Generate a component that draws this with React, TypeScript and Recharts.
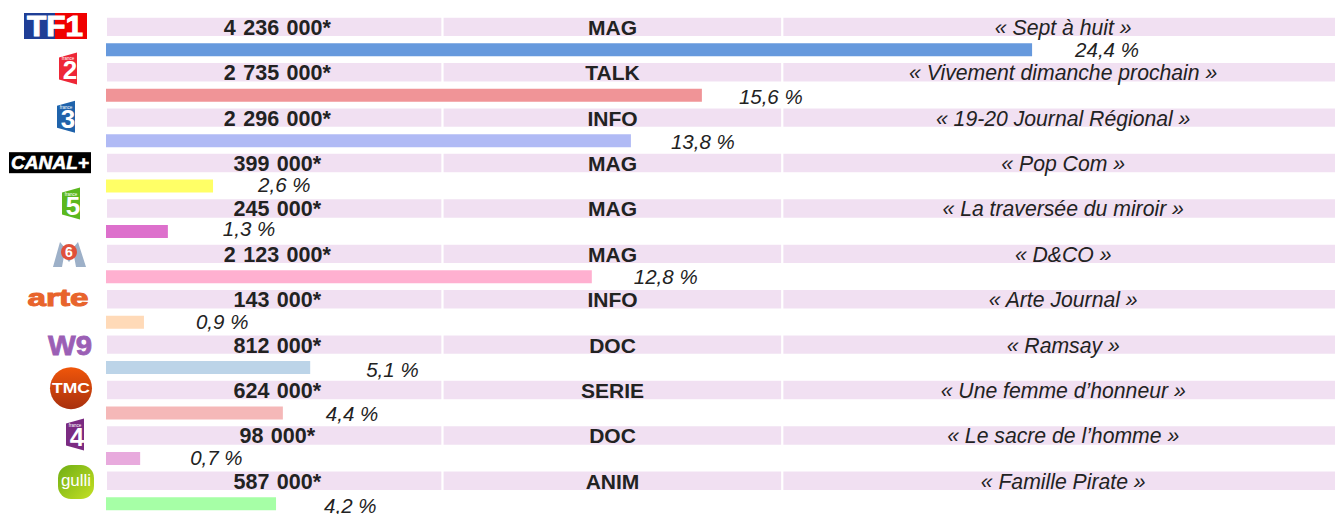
import { BarChart, Bar, Cell, XAxis, YAxis, LabelList } from 'recharts';

const channels = ['TF1', 'France 2', 'France 3', 'Canal+', 'France 5', 'M6', 'Arte', 'W9', 'TMC', 'France 4', 'Gulli'];
const audiences = ['4 236 000*', '2 735 000*', '2 296 000*', '399 000*', '245 000*', '2 123 000*', '143 000*', '812 000*', '624 000*', '98 000*', '587 000*'];
const genres = ['MAG', 'TALK', 'INFO', 'MAG', 'MAG', 'MAG', 'INFO', 'DOC', 'SERIE', 'DOC', 'ANIM'];
const programmes = [
  '« Sept à huit »', '« Vivement dimanche prochain »', '« 19-20 Journal Régional »', '« Pop Com »',
  '« La traversée du miroir »', '« D&CO »', '« Arte Journal »', '« Ramsay »',
  '« Une femme d’honneur »', '« Le sacre de l’homme »', '« Famille Pirate »',
];
const shareLabels = ['24,4 %', '15,6 %', '13,8 %', '2,6 %', '1,3 %', '12,8 %', '0,9 %', '5,1 %', '4,4 %', '0,7 %', '4,2 %'];
// bar lengths as drawn: in the picture they don't quite follow the printed labels
const shareBars = [24.4, 15.7, 13.83, 2.82, 1.63, 12.8, 1.0, 5.38, 4.66, 0.9, 4.48];
const barColors = ['#6699DD', '#F09497', '#B0BAF5', '#FFFF66', '#DD70CC', '#FFB0D0', '#FFDAB8', '#BCD4E8', '#F5B8B8', '#E8AADD', '#A6FFA6'];
const columnWidths = [27.32, 27.58, 45.1];

// label placement, right of each bar end
const labelGaps = [43, 37, 40, 45, 55, 42, 52, 56, 43, 50, 48];
const labelShift = [0, 1, 1, -2, -3, 0, -1, 2, 0, -1, 2];

const FONT = '"Liberation Sans", Arial, sans-serif';
const INK = '#222222';
const BAND = '#F1E0F2';

const rows = channels.flatMap((c, i) => [
  {
    row: `${c} info`, channel: c, col1: columnWidths[0], col2: columnWidths[1], col3: columnWidths[2],
    audience: audiences[i], genre: genres[i], programme: programmes[i],
    share: null, shareLabel: null,
  },
  {
    row: `${c} part`, channel: null, col1: null, col2: null, col3: null,
    audience: null, genre: null, programme: null,
    share: shareBars[i], shareLabel: shareLabels[i],
  },
]);

function AudienceText({ x, y, width, height, value }: any) {
  if (value == null) return null;
  return (
    <text x={x + width / 2 + 3} y={y + height / 2 + 8} textAnchor="middle" fill={INK} fontFamily={FONT} fontSize={21.5} fontWeight={700} style={{ wordSpacing: 1.5 }}>
      {value}
    </text>
  );
}

function GenreText({ x, y, width, height, value }: any) {
  if (value == null) return null;
  return (
    <text x={x + width / 2} y={y + height / 2 + 8} textAnchor="middle" fill={INK} fontFamily={FONT} fontSize={21} fontWeight={700}>
      {value}
    </text>
  );
}

function ProgrammeText({ x, y, width, height, value }: any) {
  if (value == null) return null;
  return (
    <text x={x + width / 2 + 3} y={y + height / 2 + 8} textAnchor="middle" fill={INK} fontFamily={FONT} fontSize={21.2} fontStyle="italic">
      {value}
    </text>
  );
}

function ShareText({ x, y, width, height, value }: any) {
  if (value == null) return null;
  const i = shareLabels.indexOf(value);
  return (
    <text x={x + width + labelGaps[i]} y={y + height / 2 + 7.5 + labelShift[i]} fill={INK} fontFamily={FONT} fontSize={20.5} fontStyle="italic">
      {value}
    </text>
  );
}

function FranceLogo({ cx, cy, color, n }: { cx: number; cy: number; color: string; n: string }) {
  return (
    <g transform={`translate(${cx},${cy})`}>
      <polygon points="-9,-11 9,-16 9,16 -9,11" fill={color} />
      <text x={0} y={-8} textAnchor="middle" fill="#fff" fontFamily={FONT} fontSize={4.5}>france</text>
      <text x={2} y={11} textAnchor="middle" fill="#fff" fontFamily={FONT} fontWeight={700} fontSize={26}>{n}</text>
    </g>
  );
}

function ChannelLogo({ channel, y }: { channel: string; y: number }) {
  const t = (cx: number, cy: number, s: string, size: number, fill: string, extra: any = {}) => (
    <text x={cx} y={cy} textAnchor="middle" fill={fill} fontFamily={FONT} fontWeight={700} fontSize={size} {...extra}>{s}</text>
  );
  switch (channel) {
    case 'TF1':
      return (
        <g>
          <rect x={24} y={y - 14} width={32} height={26} fill="#1F3E96" />
          <rect x={55} y={y - 14} width={32} height={26} fill="#F00000" />
          {t(55, y + 9, 'TF1', 29, '#fff', { textLength: 56, lengthAdjust: 'spacingAndGlyphs', stroke: '#fff', strokeWidth: 1 })}
        </g>
      );
    case 'France 2': return <FranceLogo cx={68} cy={y - 4} color="#EE2737" n="2" />;
    case 'France 3': return <FranceLogo cx={66} cy={y - 1} color="#1F63AB" n="3" />;
    case 'Canal+':
      return (
        <g>
          <rect x={9} y={y - 11} width={82} height={21} fill="#000" />
          {t(50, y + 6, 'CANAL+', 19, '#fff', { fontStyle: 'italic', textLength: 78, lengthAdjust: 'spacingAndGlyphs', stroke: '#fff', strokeWidth: 0.6 })}
        </g>
      );
    case 'France 5': return <FranceLogo cx={71} cy={y - 5} color="#5BB81F" n="5" />;
    case 'M6':
      return (
        <g>
          <polygon
            points={`53,${y + 13} 60,${y - 12} 69,${y - 1} 78,${y - 12} 86,${y + 13} 76,${y + 13} 74,${y + 2} 69,${y + 8} 64,${y + 2} 62,${y + 13}`}
            fill="#9DB0C8"
          />
          <circle cx={69} cy={y - 2} r={8} fill="#E0503A" />
          {t(69, y + 3, '6', 14, '#fff')}
        </g>
      );
    case 'Arte': return t(58, y + 7, 'arte', 24, '#E8642C', { textLength: 61, lengthAdjust: 'spacingAndGlyphs', stroke: '#E8642C', strokeWidth: 1 });
    case 'W9': return t(70, y + 10, 'W9', 28, '#9B5FB5', { textLength: 44, lengthAdjust: 'spacingAndGlyphs', stroke: '#9B5FB5', strokeWidth: 0.8 });
    case 'TMC':
      return (
        <g>
          <defs>
            <linearGradient id="tmcFill" x1="0" y1="0" x2="0" y2="1">
              <stop offset="0%" stopColor="#F0560A" />
              <stop offset="100%" stopColor="#A8300E" />
            </linearGradient>
          </defs>
          <circle cx={71} cy={y - 2} r={21} fill="url(#tmcFill)" />
          {t(71, y + 3, 'TMC', 15, '#fff', { textLength: 38, lengthAdjust: 'spacingAndGlyphs' })}
        </g>
      );
    case 'France 4': return <FranceLogo cx={75} cy={y - 1} color="#7B2B82" n="4" />;
    case 'Gulli':
      return (
        <g>
          <defs>
            <linearGradient id="gulliFill" x1="0" y1="0" x2="1" y2="1">
              <stop offset="0%" stopColor="#6FAE14" />
              <stop offset="100%" stopColor="#C4E024" />
            </linearGradient>
          </defs>
          <rect x={58} y={y - 16} width={36} height={34} rx={13} fill="url(#gulliFill)" />
          {t(76, y + 5, 'gulli', 17, '#fff', { fontWeight: 400 })}
        </g>
      );
    default: return null;
  }
}

function LogoTick({ y, payload }: any) {
  const name = String(payload.value);
  if (!name.endsWith(' info')) return null;
  return <ChannelLogo channel={name.replace(' info', '')} y={y} />;
}

export default function App() {
  return (
    <div style={{ position: 'absolute', left: 0, top: 0, width: 1335, height: 514, overflow: 'hidden', background: '#fff' }}>
      <BarChart
        layout="vertical" width={1338} height={516} data={rows}
        margin={{ top: 15.65, right: 0, bottom: 1, left: 0 }}
      >
        <XAxis xAxisId="share" type="number" domain={[0, 32.46]} hide />
        <XAxis xAxisId="table" type="number" domain={[0, 100]} hide />
        <YAxis
          yAxisId="share" type="category" dataKey="row" width={106} interval={0}
          axisLine={false} tickLine={false} tick={<LogoTick />}
        />
        <YAxis yAxisId="table" type="category" dataKey="row" hide />
        <Bar xAxisId="table" yAxisId="table" dataKey="col1" stackId="t" barSize={23} fill={BAND} stroke="#fff" strokeWidth={2} isAnimationActive={false}>
          <LabelList dataKey="audience" content={(p: any) => <AudienceText {...p} />} />
        </Bar>
        <Bar xAxisId="table" yAxisId="table" dataKey="col2" stackId="t" barSize={23} fill={BAND} stroke="#fff" strokeWidth={2} isAnimationActive={false}>
          <LabelList dataKey="genre" content={(p: any) => <GenreText {...p} />} />
        </Bar>
        <Bar xAxisId="table" yAxisId="table" dataKey="col3" stackId="t" barSize={23} fill={BAND} stroke="#fff" strokeWidth={2} isAnimationActive={false}>
          <LabelList dataKey="programme" content={(p: any) => <ProgrammeText {...p} />} />
        </Bar>
        <Bar xAxisId="share" yAxisId="share" dataKey="share" barSize={13} isAnimationActive={false}>
          {rows.map((r, i) => <Cell key={r.row} fill={barColors[Math.floor(i / 2)]} />)}
          <LabelList dataKey="shareLabel" content={(p: any) => <ShareText {...p} />} />
        </Bar>
      </BarChart>
    </div>
  );
}
